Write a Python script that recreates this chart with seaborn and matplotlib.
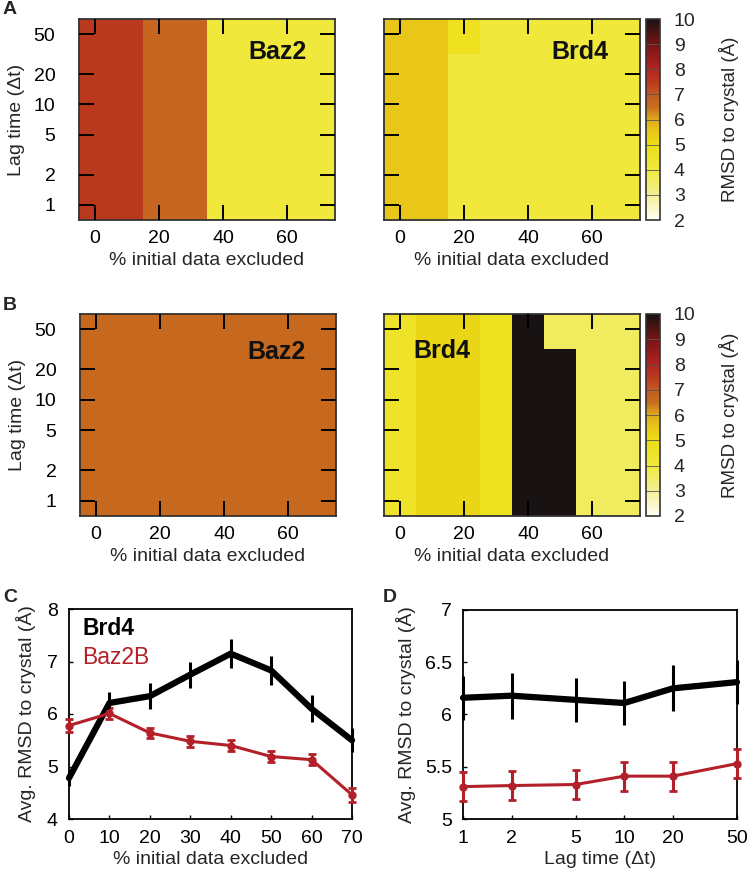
import numpy as np
import pandas as pd
import matplotlib
matplotlib.use("Agg")
import matplotlib.pyplot as plt
from matplotlib.colors import LinearSegmentedColormap
from matplotlib.ticker import NullLocator, FixedLocator, FixedFormatter
import seaborn as sns

# ---------------- data ----------------
excluded = [0, 10, 20, 30, 40, 50, 60, 70]          # % initial data excluded
lags = [1, 2, 5, 10, 20, 50]                          # lag time (dt)

# heatmaps: rows = lag times, cols = excluded %
baz2_A = [[7.5, 7.5, 6.7, 6.7, 4.0, 4.0, 4.0, 4.0]] * 6
brd4_A = [[5.5, 5.5, 4.0, 4.0, 4.0, 4.0, 4.0, 4.0]] * 5 + \
         [[5.5, 5.5, 4.7, 4.0, 4.0, 4.0, 4.0, 4.0]]
baz2_B = [[6.65] * 8] * 6
brd4_B = [[4.5, 5.2, 5.2, 4.7, 10.0, 10.0, 3.6, 3.6]] * 5 + \
         [[4.5, 5.2, 5.2, 4.7, 10.0, 3.6, 3.6, 3.6]]

# panel C
brd4_C = [4.78, 6.21, 6.34, 6.75, 7.15, 6.83, 6.10, 5.50]
brd4_C_err = [0.15, 0.21, 0.25, 0.25, 0.27, 0.28, 0.26, 0.23]
baz_C = [5.78, 6.01, 5.64, 5.48, 5.40, 5.19, 5.13, 4.46]
baz_C_err = [0.12, 0.10, 0.10, 0.10, 0.10, 0.11, 0.11, 0.13]

# panel D
brd4_D = [6.16, 6.18, 6.14, 6.11, 6.25, 6.31]
brd4_D_err = [0.21, 0.22, 0.21, 0.21, 0.22, 0.21]
baz_D = [5.31, 5.32, 5.33, 5.41, 5.41, 5.53]
baz_D_err = [0.14, 0.14, 0.14, 0.14, 0.14, 0.14]

# ---------------- style ----------------
sns.set_theme(style="ticks")
plt.rcParams['font.family'] = ['Liberation Sans', 'DejaVu Sans']
plt.rcParams['axes.linewidth'] = 1.2
plt.rcParams['axes.axisbelow'] = False

RED = '#b3202a'
FS_TICK = 14
FS_LAB = 14

anchors = [(2, (255, 255, 245)), (3, (243, 238, 150)), (4, (240, 233, 60)),
           (5, (236, 222, 20)), (5.5, (232, 200, 25)), (6, (222, 170, 30)),
           (6.5, (200, 110, 30)), (7, (195, 90, 35)), (7.5, (185, 58, 30)),
           (8, (180, 35, 35)), (9, (120, 20, 20)), (10, (25, 18, 18))]
cmap = LinearSegmentedColormap.from_list(
    'rmsd', [((v - 2) / 8, tuple(c / 255 for c in col)) for v, col in anchors])

fig = plt.figure(figsize=(7.47, 8.74), dpi=100)

W, H = 747, 874
def rect(x0, y0, x1, y1):
    return [x0 / W, 1 - y1 / H, (x1 - x0) / W, (y1 - y0) / H]

ex = np.array(excluded, float)
lg = np.array(lags, float)
xedges = np.concatenate([[ex[0] - 5], (ex[:-1] + ex[1:]) / 2, [ex[-1] + 5]])
yedges = np.concatenate([[lg[0] / np.sqrt(2)], np.sqrt(lg[:-1] * lg[1:]), [lg[-1] * np.sqrt(2)]])

heat_axes = []


def heat(ax, data, label, tx, ty, ha, show_y):
    m = ax.pcolormesh(xedges, yedges, np.array(data), cmap=cmap, vmin=2, vmax=10)
    ax.set_yscale('log')
    ax.set_xlim(xedges[0], xedges[-1])
    ax.set_ylim(yedges[0], yedges[-1])
    ax.yaxis.set_major_locator(FixedLocator(lags))
    ax.yaxis.set_major_formatter(FixedFormatter([str(v) for v in lags]))
    ax.yaxis.set_minor_locator(NullLocator())
    ax.set_xticks([0, 20, 40, 60])
    for s in ax.spines.values():
        s.set_color('#333333')
        s.set_linewidth(1.3)
    ax.set_xlabel('% initial data excluded', fontsize=FS_LAB, labelpad=4)
    if show_y:
        ax.set_ylabel('Lag time (Δt)', fontsize=FS_LAB, labelpad=6)
    ax.text(tx, ty, label, transform=ax.transAxes, ha=ha, va='center',
            fontsize=18, fontweight='bold', color='#111111', zorder=5)
    heat_axes.append((ax, show_y))
    return m


def cbar(m, cax):
    cb = fig.colorbar(m, cax=cax)
    cb.set_ticks(range(2, 11))
    cb.ax.tick_params(length=0, labelsize=FS_TICK, pad=10)
    cb.outline.set_linewidth(1.2)
    cb.outline.set_edgecolor('#333333')
    for v in range(3, 10):
        cax.axhline(v, color='#555555', lw=0.6)
    cb.set_label('RMSD to crystal (Å)', fontsize=13.5, labelpad=17)


axA1 = fig.add_axes(rect(79, 19, 335, 220))
axA2 = fig.add_axes(rect(384, 19, 640, 220))
caxA = fig.add_axes(rect(646, 19, 660, 220))
axB1 = fig.add_axes(rect(80, 314, 336, 516))
axB2 = fig.add_axes(rect(384, 314, 640, 516))
caxB = fig.add_axes(rect(646, 314, 660, 516))

m = heat(axA1, baz2_A, 'Baz2', 0.89, 0.835, 'right', True)
m = heat(axA2, brd4_A, 'Brd4', 0.875, 0.835, 'right', False)
cbar(m, caxA)
m = heat(axB1, baz2_B, 'Baz2', 0.88, 0.81, 'right', True)
m = heat(axB2, brd4_B, 'Brd4', 0.113, 0.815, 'left', False)
cbar(m, caxB)

# ---------------- panel C ----------------
axC = fig.add_axes(rect(69, 609, 352, 819))
dfC = pd.DataFrame({'x': excluded, 'brd4': brd4_C, 'baz': baz_C})
axC.errorbar(excluded, brd4_C, yerr=brd4_C_err, fmt='none', ecolor='black',
             elinewidth=2.2, capsize=0, clip_on=False, zorder=3)
sns.lineplot(data=dfC, x='x', y='brd4', ax=axC, color='black', lw=4.5,
             solid_capstyle='round', clip_on=False, zorder=4)
axC.errorbar(excluded, baz_C, yerr=baz_C_err, fmt='none', ecolor=RED,
             elinewidth=2.2, capsize=3, capthick=2, clip_on=False, zorder=3)
sns.lineplot(data=dfC, x='x', y='baz', ax=axC, color=RED, lw=2.2,
             marker='o', markersize=6, markeredgewidth=0, clip_on=False, zorder=4)
axC.set_xlim(0, 70)
axC.set_ylim(4, 8)
axC.set_xticks(excluded)
axC.set_yticks([4, 5, 6, 7, 8])
axC.set_xlabel('% initial data excluded', fontsize=FS_LAB, labelpad=3)
axC.set_ylabel('Avg. RMSD to crystal (Å)', fontsize=FS_LAB, labelpad=8)
axC.text(0.046, 0.905, 'Brd4', transform=axC.transAxes, fontsize=16.5,
         fontweight='bold', color='black', va='center', ha='left')
axC.text(0.046, 0.77, 'Baz2B', transform=axC.transAxes, fontsize=16.5,
         color=RED, va='center', ha='left')

# ---------------- panel D ----------------
axD = fig.add_axes(rect(463, 610, 737, 819))
dfD = pd.DataFrame({'x': lags, 'brd4': brd4_D, 'baz': baz_D})
axD.errorbar(lags, brd4_D, yerr=brd4_D_err, fmt='none', ecolor='black',
             elinewidth=2.2, capsize=0, clip_on=False, zorder=3)
sns.lineplot(data=dfD, x='x', y='brd4', ax=axD, color='black', lw=4.5,
             clip_on=False, zorder=4)
axD.errorbar(lags, baz_D, yerr=baz_D_err, fmt='none', ecolor=RED,
             elinewidth=2.2, capsize=3, capthick=2, clip_on=False, zorder=3)
sns.lineplot(data=dfD, x='x', y='baz', ax=axD, color=RED, lw=2.2,
             marker='o', markersize=6, markeredgewidth=0, clip_on=False, zorder=4)
axD.set_xscale('log')
axD.set_xlim(1, 50)
axD.set_ylim(5, 7)
axD.xaxis.set_major_locator(FixedLocator(lags))
axD.xaxis.set_major_formatter(FixedFormatter([str(v) for v in lags]))
axD.xaxis.set_minor_locator(NullLocator())
axD.set_yticks([5, 5.5, 6, 6.5, 7])
axD.set_yticklabels(['5', '5.5', '6', '6.5', '7'])
axD.set_xlabel('Lag time (Δt)', fontsize=FS_LAB, labelpad=3)
axD.set_ylabel('Avg. RMSD to crystal (Å)', fontsize=FS_LAB, labelpad=6)

for a in (axC, axD):
    for s in a.spines.values():
        s.set_color('black')
        s.set_linewidth(1.3)
    a.tick_params(direction='in', length=3, width=1, labelsize=FS_TICK,
                  colors='black')
    a.tick_params(axis='x', pad=8)
    a.tick_params(axis='y', pad=8)

# heatmap ticks: inward on all four sides, drawn above the cells
for a, show_y in heat_axes:
    a.set_axisbelow(False)
    a.tick_params(direction='in', length=11, width=1.4, colors='black',
                  top=True, right=True, labelsize=FS_TICK)
    a.tick_params(axis='x', pad=7)
    a.tick_params(axis='y', pad=17, labelleft=show_y)

# panel letters
for lbl, x, y in [('A', 3, 10), ('B', 3, 305), ('C', 3, 598), ('D', 383, 598)]:
    fig.text(x / W, 1 - y / H, lbl, fontsize=14, fontweight='bold',
             ha='left', va='center')

fig.savefig('out.png', dpi=100)
